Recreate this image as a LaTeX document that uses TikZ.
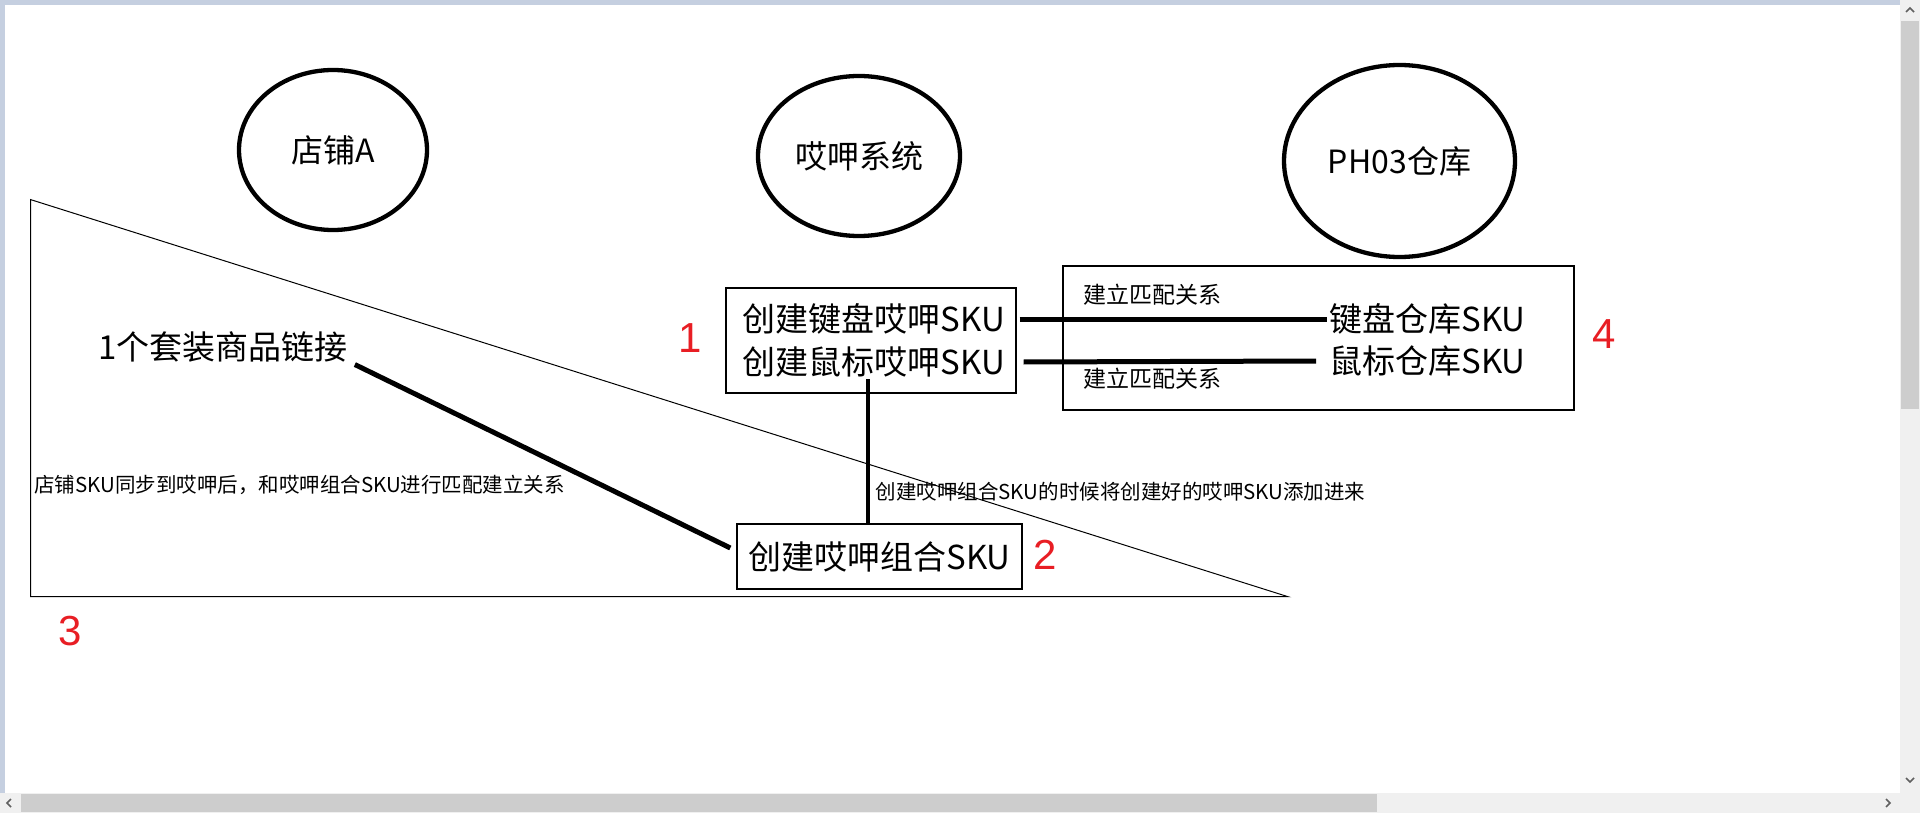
\documentclass[tikz,border=0pt]{standalone}
\usepackage{fontspec}
\setmainfont{Noto Sans CJK SC}
\newfontfamily\numfont{Liberation Sans}
\usetikzlibrary{shapes.geometric}

\definecolor{numred}{RGB}{232,30,36}
\definecolor{framebar}{RGB}{197,207,224}
\definecolor{scrolltrack}{RGB}{240,240,240}
\definecolor{scrollthumb}{RGB}{205,205,205}
\definecolor{scrollarrow}{RGB}{96,96,96}

\tikzset{
    party/.style={ellipse, draw, line width=4.3pt, inner sep=0pt, font=\fontsize{32}{38}\selectfont},
    skubox/.style={draw, line width=1.3pt},
    skutext/.style={inner sep=2pt, font=\fontsize{33}{40}\selectfont},
    notetext/.style={inner sep=1pt, font=\fontsize{20.5}{25}\selectfont},
    matchtext/.style={inner sep=1pt, font=\fontsize{23}{28}\selectfont},
    link/.style={line width=5pt},
    numtag/.style={inner sep=0pt, text=numred, font=\numfont\fontsize{42}{48}\selectfont},
}

\begin{document}
\begin{tikzpicture}[x=1pt, y=-1pt]
    \useasboundingbox (0,0) rectangle (1920,813);

    % Window frame and scroll bars
    \fill[framebar] (0,0) rectangle (1900,5);
    \fill[framebar] (0,0) rectangle (5,793);
    \fill[scrolltrack] (1900,0) rectangle (1920,793);
    \fill[scrolltrack] (0,793) rectangle (1920,813);
    \fill[scrollthumb] (1901,21) rectangle (1919,409);
    \fill[scrollthumb] (21,794) rectangle (1377,812);
    \draw[scrollarrow, line width=1.5pt] (1906,12) -- (1910,8) -- (1914,12);
    \draw[scrollarrow, line width=1.5pt] (1906,778) -- (1910,782) -- (1914,778);
    \draw[scrollarrow, line width=1.5pt] (11,799) -- (7,803) -- (11,807);
    \draw[scrollarrow, line width=1.5pt] (1886,799) -- (1890,803) -- (1886,807);

    % Define the corners of the shop triangle
    \coordinate (T1) at (30.6,199.6);
    \coordinate (T2) at (30.6,596.7);
    \coordinate (T3) at (1288,596.7);
    \draw[line width=1pt] (T1) -- (T2) -- (T3) -- cycle;

    % The three parties
    \node[party, minimum width=188, minimum height=160] (shop) at (333,150) {店铺A};
    \node[party, minimum width=202, minimum height=160] (system) at (859,156) {哎呷系统};
    \node[party, minimum width=231, minimum height=192] (warehouse) at (1399.5,161) {PH03仓库};

    % Boxes
    \node[skubox, minimum width=290, minimum height=105] (sysbox) at (871,340.5) {};
    \node[skubox, minimum width=511, minimum height=144] (whbox) at (1318.5,338) {};
    \node[skubox, skutext, minimum width=285, minimum height=65] (combo) at (879.5,556.5) {创建哎呷组合SKU};

    % SKU texts
    \node[skutext] (kbsku) at (874,319) {创建键盘哎呷SKU};
    \node[skutext] (mssku) at (874,362) {创建鼠标哎呷SKU};
    \node[skutext] (kbwh) at (1427.5,319) {键盘仓库SKU};
    \node[skutext] (mswh) at (1427.5,361) {鼠标仓库SKU};
    \node[skutext] (kit) at (223,347) {1个套装商品链接};

    % Notes
    \node[matchtext] (match1) at (1152,295) {建立匹配关系};
    \node[matchtext] (match2) at (1152,379) {建立匹配关系};
    \node[notetext] (syncnote) at (299.5,485) {店铺SKU同步到哎呷后，和哎呷组合SKU进行匹配建立关系};
    \node[notetext] (addnote) at (1120.5,491.5) {创建哎呷组合SKU的时候将创建好的哎呷SKU添加进来};

    % Connectors
    \draw[link] ([xshift=3pt]sysbox.east |- kbsku.center) -- (kbwh.west);
    \draw[link] ([xshift=7pt]sysbox.east |- mssku.center) -- ([xshift=-11pt]mswh.west);
    \draw[line width=4pt] ([xshift=-6pt]mssku.south) -- ([xshift=-6pt]mssku.south |- combo.north);
    \draw[link] ([xshift=5pt]kit.south east) -- ([xshift=-6pt, yshift=8.5pt]combo.west);

    % Red step numbers
    \node[numtag] (n1) at (690,338) {1};
    \node[numtag] (n2) at (1045,554.5) {2};
    \node[numtag] (n3) at (70,631) {3};
    \node[numtag] (n4) at (1604,334.5) {4};

\end{tikzpicture}
\end{document}
